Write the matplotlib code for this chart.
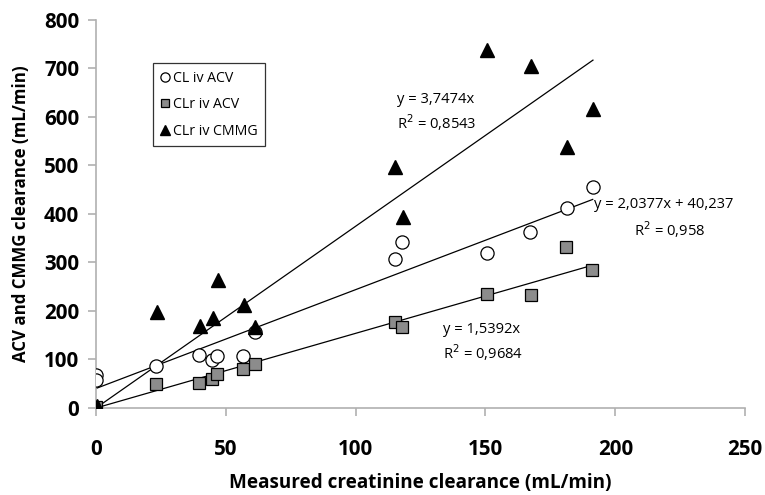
import matplotlib
matplotlib.use("Agg")
import matplotlib.pyplot as plt
import numpy as np

plt.rcParams['font.family'] = ['Open Sans', 'DejaVu Sans']

# Data
cl_acv_x = [0, 0, 23.1, 39.7, 44.7, 46.5, 56.6, 61.4, 115.0, 117.9, 150.7, 167.2, 181.3, 191.3]
cl_acv_y = [68, 57, 86, 110, 98, 108, 108, 156, 307, 342, 320, 363, 412, 455]

clr_acv_x = [0, 23.1, 39.7, 44.5, 46.5, 56.6, 61.3, 115.3, 118.0, 150.7, 167.5, 181.1, 191.0]
clr_acv_y = [3, 50, 52, 60, 70, 81, 91, 178, 167, 236, 233, 332, 284]

clr_cmmg_x = [0.5, 23.5, 40.1, 45.1, 47.0, 57.0, 61.3, 115.3, 118.3, 150.7, 167.5, 181.3, 191.4]
clr_cmmg_y = [4, 198, 169, 185, 264, 212, 166, 497, 394, 739, 706, 538, 617]

# Trend line equations (from chart labels)
slope_cl_acv, icpt_cl_acv = 2.0377, 40.237
slope_clr_acv = 1.5392
slope_clr_cmmg = 3.7474

fig = plt.figure(figsize=(7.65, 4.95), dpi=100)
ax = fig.add_axes([0.1255, 0.1758, 0.8485, 0.7838])

grey_spine = '#b0b0b0'

xl = np.array([0, max(clr_cmmg_x)])
ax.plot(xl, slope_clr_cmmg * xl, color='black', lw=0.9, zorder=2)
xl2 = np.array([0, max(cl_acv_x)])
ax.plot(xl2, slope_cl_acv * xl2 + icpt_cl_acv, color='black', lw=0.9, zorder=2)
xl3 = np.array([0, max(clr_acv_x)])
ax.plot(xl3, slope_clr_acv * xl3, color='black', lw=0.9, zorder=2)

ax.plot(cl_acv_x, cl_acv_y, 'o', ms=9.5, mfc='white', mec='black', mew=0.9,
        ls='none', label='CL iv ACV', zorder=3)
ax.plot(clr_acv_x, clr_acv_y, 's', ms=8.8, mfc='#8c8c8c', mec='black', mew=0.9,
        ls='none', label='CLr iv ACV', zorder=3)
ax.plot(clr_cmmg_x, clr_cmmg_y, '^', ms=10, mfc='black', mec='black',
        ls='none', label='CLr iv CMMG', zorder=4)

ax.set_xlim(0, 250)
ax.set_ylim(0, 800)
ax.set_xticks([0, 50, 100, 150, 200, 250])
ax.set_yticks(range(0, 801, 100))

for s in ['top', 'right']:
    ax.spines[s].set_visible(False)
for s in ['left', 'bottom']:
    ax.spines[s].set_color(grey_spine)
    ax.spines[s].set_linewidth(1.2)

ax.tick_params(axis='both', direction='out', length=6, width=1.2, color=grey_spine,
               labelsize=14.8)
ax.tick_params(axis='x', pad=16)
ax.tick_params(axis='y', pad=6)
for lab in ax.get_xticklabels() + ax.get_yticklabels():
    lab.set_fontweight('bold')

ax.set_xlabel('Measured creatinine clearance (mL/min)', fontsize=13.6, fontweight='bold',
              labelpad=10)
ax.set_ylabel('ACV and CMMG clearance (mL/min)', fontsize=12.2, fontweight='bold',
              labelpad=10)

leg = ax.legend(loc='upper left', bbox_to_anchor=(0.0878, 0.889), fontsize=10.2,
                frameon=True, fancybox=False, edgecolor='black', handlelength=0.6,
                handletextpad=0.25, borderpad=0.55, labelspacing=0.8, markerscale=0.7,
                borderaxespad=0)
leg.get_frame().set_linewidth(0.9)

fs = 10.6
ax.text(116.1, 636, 'y = 3,7474x', fontsize=fs, ha='left', va='center')
ax.text(116.1, 588, 'R$^2$ = 0,8543', fontsize=fs, ha='left', va='center')
ax.text(191.7, 419, 'y = 2,0377x + 40,237', fontsize=fs, ha='left', va='center')
ax.text(207.1, 367, 'R$^2$ = 0,958', fontsize=fs, ha='left', va='center')
ax.text(133.8, 161, 'y = 1,5392x', fontsize=fs, ha='left', va='center')
ax.text(133.8, 115, 'R$^2$ = 0,9684', fontsize=fs, ha='left', va='center')

fig.savefig('out.png', dpi=100)
